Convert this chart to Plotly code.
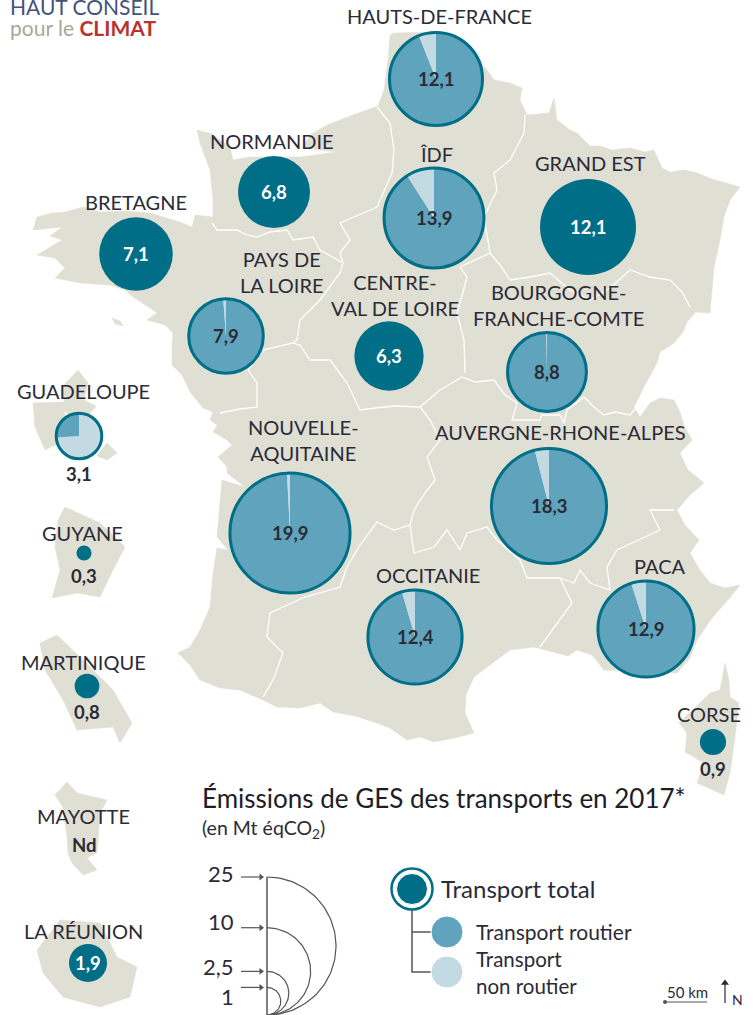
import numpy as np
import plotly.graph_objects as go

W, H = 754, 1015
LAND = "#e0dfd3"; DARK = "#006e87"; ROAD = "#5fa3bc"; LIGHT = "#c3dae3"; INK = "#2b2b38"; WIRE = "#555555"
FONT = "Lato"
K = 13.8  # px radius per sqrt(Mt)

# --- Data: regions, total emissions (Mt eqCO2), share of non-road transport (None = not split)
regions = ["HdF", "IdF", "GE", "Nor", "Bre", "PdL", "CVL", "BFC", "ARA", "NAq", "Occ", "PACA", "Cor", "Gua", "Guy", "Mar", "Reu"]
totals = [12.1, 13.9, 12.1, 6.8, 7.1, 7.9, 6.3, 8.8, 18.3, 19.9, 12.4, 12.9, 0.9, 3.1, 0.3, 0.8, 1.9]
nonroad = [0.06, 0.09, None, None, None, 0.012, None, 0.003, 0.04, 0.008, 0.045, 0.05, None, 0.74, None, None, None]
value_text = ["12,1", "13,9", "12,1", "6,8", "7,1", "7,9", "6,3", "8,8", "18,3", "19,9", "12,4", "12,9", "0,9", "3,1", "0,3", "0,8", "1,9"]
map_x = [436, 434, 588, 274, 136, 226, 389, 547, 549, 290, 415, 646, 713, 79, 84, 87, 88]
map_y = [79, 218, 227, 192, 254, 336, 356, 372, 506, 533, 637, 629, 742, 436, 553, 686, 963]
value_y = [79, 218, 227, 192, 254, 336, 356, 372, 506, 533, 637, 629, 769, 474, 576, 712, 963]

label_text = ["HAUTS-DE-FRANCE", "NORMANDIE", "BRETAGNE", "ÎDF", "GRAND EST", "PAYS DE<br>LA LOIRE", "CENTRE-<br>VAL DE LOIRE",
              "BOURGOGNE-<br>FRANCHE-COMTE", "GUADELOUPE", "NOUVELLE-<br>AQUITAINE", "AUVERGNE-RHONE-ALPES", "GUYANE",
              "OCCITANIE", "PACA", "MARTINIQUE", "CORSE", "MAYOTTE", "LA RÉUNION"]
label_x = [439, 272, 136, 436, 590, 282, 395, 558, 83, 303, 560, 82, 428, 660, 83, 709, 83, 83]
label_y = [16, 141, 202, 154, 163, 272, 295, 305, 391, 440, 432, 533, 575, 566, 662, 714, 816, 931]

legend_values = [25, 10, 2.5, 1]
legend_labels = ["25", "10", "2,5", "1"]

# --- Basemap geography
france = [(390,35),(394,33),(437,32),(470,50),(487,70),(494,80),(510,83),(522,88),(520,100),(527,115),(549,113),(554,98),(557,120),
          (570,130),(577,133),(590,146),(600,146),(612,150),(630,148),(645,152),(654,150),(662,168),(670,172),(685,170),(697,173),(712,179),(740,187),
          (730,200),(724,217),(720,240),(714,267),(712,290),(710,313),(696,312),(687,322),(683,332),(674,343),(660,352),
          (657,363),(645,385),(634,407),(640,417),(650,403),(660,398),(674,400),(680,412),(684,425),(692,440),(680,453),(688,470),(704,483),(690,495),(677,510),(685,525),(699,540),(690,553),(700,570),(710,583),
          (725,588),(740,585),(728,600),(712,618),(697,640),(690,658),(677,673),(650,672),(604,670),(592,655),(577,650),(568,656),(557,653),(534,647),(510,650),(490,665),(474,677),(466,695),(465,713),(474,733),(455,738),(434,742),
          (420,737),(407,740),(390,728),(377,723),(355,716),(333,712),(320,703),(300,708),(277,707),(263,700),(240,690),(220,688),(200,680),(190,665),(178,653),(190,647),(200,630),(210,607),(213,573),(217,548),(228,550),(217,537),
          (220,507),(222,480),(245,487),(227,473),(227,467),(218,457),(232,445),(227,440),(213,432),(217,425),(210,420),(213,412),(203,408),(190,392),(182,375),(172,365),(172,345),(173,333),(165,325),(153,322),
          (147,320),(157,313),(150,308),(133,297),(125,290),(110,285),(80,283),(55,278),(65,268),(55,258),(37,255),(62,240),(50,236),(62,227),(33,230),(37,217),(52,213),(65,212),(83,207),(100,212),(125,211),(150,213),(167,218),(180,222),
          (192,227),(195,215),(213,217),(213,200),(210,170),(200,143),(197,130),(212,134),(230,147),(233,160),(250,157),(267,157),(300,157),(337,152),
          (302,148),(310,135),(327,125),(353,115),(378,106),(384,90),(388,60)]
belle_ile = [(112,318),(120,321),(123,326),(115,324)]
corsica = [(725,663),(729,680),(730,697),(739,703),(735,737),(730,773),(724,795),(697,783),(704,763),(685,752),(687,733),(679,723),(710,693),(720,690)]
guadeloupe_w = [(33,403),(64,402),(66,440),(45,450),(35,427)]
guadeloupe_e = [(64,385),(78,370),(88,383),(84,400),(96,406),(80,425),(64,410)]
marie_galante = [(107,443),(117,453),(107,460),(97,456)]
guyane = [(65,507),(100,523),(125,547),(113,570),(100,597),(77,593),(52,598),(60,570),(55,547),(58,520)]
martinique = [(40,643),(57,635),(83,660),(113,690),(132,723),(120,743),(113,727),(77,730),(63,700),(45,670)]
mayotte = [(67,782),(77,793),(107,800),(100,813),(97,853),(87,858),(97,870),(83,875),(72,863),(68,853),(67,837),(63,807),(55,795)]
reunion = [(37,950),(60,920),(100,923),(117,957),(137,967),(130,997),(100,1007),(63,997),(43,973)]

borders = [
    [(212,223),(217,230),(237,230),(247,235),(257,237),(270,232),(287,230),(293,240),(313,237),(320,250),(343,263),(340,253),(350,240),(340,223),(377,207),(392,173),(394,150),(390,123),(377,107)],
    [(525,115),(524,133),(510,160),(494,173),(497,190),(484,217),(490,253),(500,265),(510,280),(530,277),(550,273),(570,290),(590,300),(610,288),(630,270),(650,277),(670,280),(682,292),(690,307)],
    [(490,253),(460,267),(467,277),(457,313),(464,340),(465,373)],
    [(343,263),(340,273),(320,300),(300,320),(297,340),(293,343),(263,350),(248,370),(257,383),(257,407),(240,409),(220,413)],
    [(293,343),(300,345),(310,360),(330,360),(347,383),(360,410),(375,408),(395,406),(420,407),(440,390),(462,377),(475,382),(494,380),(505,395),(517,403),(512,420),(540,420),(542,415),(560,415),(564,423),(567,410),(584,397),(595,408),(604,415),(615,412),(630,415),(640,403)],
    [(420,407),(430,420),(440,440),(427,457),(435,480),(425,493),(414,510),(410,525),(394,530),(377,522),(360,545),(347,567),(340,587),(305,597),(270,613),(267,637),(283,653),(273,680),(263,697)],
    [(410,525),(414,553),(434,547),(447,530),(460,550),(467,533),(487,527),(497,540),(520,560),(527,578),(560,578),(572,603),(550,633),(540,647)],
    [(560,578),(574,583),(580,570),(590,583),(610,590),(607,567),(617,550),(660,530),(650,510),(674,510)],
]

def radius(v):
    return K * np.sqrt(v)

fig = go.Figure()

for poly in [france, belle_ile, corsica, guadeloupe_w, guadeloupe_e, marie_galante, guyane, martinique, mayotte, reunion]:
    xs, ys = zip(*(poly + poly[:1]))
    fig.add_trace(go.Scatter(x=xs, y=ys, mode="lines", fill="toself", fillcolor=LAND, line=dict(width=0.5, color=LAND), hoverinfo="skip"))
for line in borders:
    xs, ys = zip(*line)
    fig.add_trace(go.Scatter(x=xs, y=ys, mode="lines", line=dict(width=1.3, color="white"), hoverinfo="skip"))

# Solid proportional circles
solid = [i for i, s in enumerate(nonroad) if s is None]
fig.add_trace(go.Scatter(x=[map_x[i] for i in solid], y=[map_y[i] for i in solid], mode="markers",
                         marker=dict(size=[2 * radius(totals[i]) for i in solid], color=DARK, opacity=1, line=dict(width=0)), hoverinfo="skip"))

# Pies: the larger sector runs clockwise from the top, the smaller closes on its left
shapes = []
for i, s in enumerate(nonroad):
    if s is None:
        continue
    r = radius(totals[i])
    cx, cy = map_x[i], map_y[i]
    vals, cols = ([1 - s, s], [ROAD, LIGHT]) if s < 0.5 else ([s, 1 - s], [LIGHT, ROAD])
    fig.add_trace(go.Pie(values=vals, marker=dict(colors=cols, line=dict(width=0)), sort=False, direction="clockwise",
                         rotation=0, textinfo="none", hoverinfo="skip", showlegend=False,
                         domain=dict(x=[(cx - r + 1) / W, (cx + r - 1) / W], y=[1 - (cy + r - 1) / H, 1 - (cy - r + 1) / H])))
    ro = r - 1.5
    shapes.append(dict(type="circle", x0=cx - ro, x1=cx + ro, y0=cy - ro, y1=cy + ro, line=dict(color=DARK, width=3), layer="above"))

ann = []
def text(x, y, t, size, color=INK, anchor="center"):
    ann.append(dict(x=x, y=y, text=t, showarrow=False, align=anchor if anchor != "right" else "right",
                    font=dict(family=FONT, size=size, color=color), xanchor=anchor, yanchor="middle"))

def arrow(x0, y0, x1, y1, symbol, color, size):
    fig.add_trace(go.Scatter(x=[x0, x1], y=[y0, y1], mode="lines", line=dict(color=color, width=1.2), hoverinfo="skip"))
    fig.add_trace(go.Scatter(x=[x1], y=[y1], mode="markers", marker=dict(symbol=symbol, size=size, color=color, opacity=1), hoverinfo="skip"))

for t, x, y in zip(label_text, label_x, label_y):
    text(x, y, t, 20)
for i, t in enumerate(value_text):
    on_dark = nonroad[i] is None and value_y[i] == map_y[i]
    text(map_x[i], value_y[i], "<b>%s</b>" % t, 18.5, "white" if on_dark else INK)
text(84, 845, "<b>Nd</b>", 18.5)

# Logo
text(8, 6, "HAUT CONSEIL", 21, "#44527a", "left")
text(8, 27, '<span style="color:#aaa798">pour le</span> <b style="color:#b8332d">CLIMAT</b>', 21, "#aaa798", "left")

# Title
text(200, 798, "Émissions de GES des transports en 2017*", 26, "#1d1d28", "left")
text(200, 829, "(en Mt éqCO<sub>2</sub>)", 19.5, INK, "left")

# Size legend
base_y = 1015; line_x = 267
fig.add_trace(go.Scatter(x=[line_x, line_x], y=[base_y - 2 * radius(25), base_y], mode="lines", line=dict(color=WIRE, width=1.5), hoverinfo="skip"))
for v in legend_values:
    r = radius(v)
    a = np.linspace(-np.pi / 2, np.pi / 2, 80)
    fig.add_trace(go.Scatter(x=line_x + r * np.cos(a), y=base_y - r + r * np.sin(a), mode="lines", line=dict(color=WIRE, width=1.2), hoverinfo="skip"))
label_offset = [-4, -6, -5, 9]
for v, t, off in zip(legend_values, legend_labels, label_offset):
    ty = base_y - 2 * radius(v)
    text(236, ty + off, t, 22, INK, "right")
    arrow(line_x - 26, ty, line_x - 6, ty, "triangle-right", WIRE, 6)

# Colour legend
fig.add_trace(go.Scatter(x=[412, 412, 431], y=[905, 972, 972], mode="lines", line=dict(color=WIRE, width=1.5), hoverinfo="skip"))
fig.add_trace(go.Scatter(x=[412, 431], y=[932, 932], mode="lines", line=dict(color=WIRE, width=1.5), hoverinfo="skip"))
fig.add_trace(go.Scatter(x=[412], y=[889], mode="markers", marker=dict(size=41, color="white", opacity=1, line=dict(color=DARK, width=2.5)), hoverinfo="skip"))
fig.add_trace(go.Scatter(x=[412, 447, 447], y=[889, 932, 972], mode="markers", marker=dict(size=[31, 32, 32], color=[DARK, ROAD, LIGHT], opacity=1), hoverinfo="skip"))
text(439, 888, "Transport total", 24, INK, "left")
text(474, 931, "Transport routier", 21, INK, "left")
text(474, 972, "Transport<br>non routier", 20.5, INK, "left")

# Scale bar & north
fig.add_trace(go.Scatter(x=[665, 707], y=[1002, 1002], mode="lines", line=dict(color=WIRE, width=1), hoverinfo="skip"))
fig.add_trace(go.Scatter(x=[665], y=[1002], mode="markers", marker=dict(size=4, color=WIRE, opacity=1), hoverinfo="skip"))
text(687, 992, "50 km", 15, INK)
text(730, 999, "N", 14, INK, "left")
arrow(725, 1003, 725, 983, "triangle-up", INK, 7)

fig.update_layout(width=W, height=H, margin=dict(l=0, r=0, t=0, b=0), paper_bgcolor="white", plot_bgcolor="white", showlegend=False,
                  annotations=ann, shapes=shapes,
                  xaxis=dict(range=[0, W], visible=False, fixedrange=True),
                  yaxis=dict(range=[H, 0], visible=False, fixedrange=True))
fig.write_html("out.html", config=dict(displayModeBar=False), post_script="document.body.style.margin='0';")
